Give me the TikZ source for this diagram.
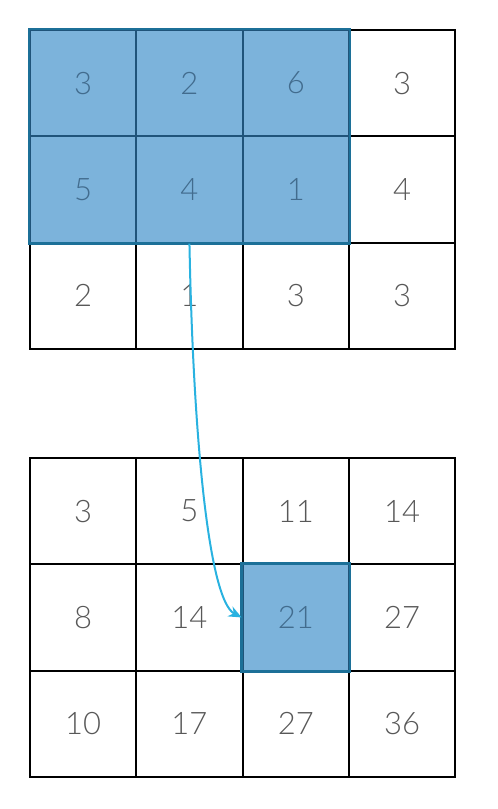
\documentclass[tikz,border=0pt]{standalone}
\usepackage{fontspec}
\setmainfont{Lato}[UprightFont={* Light}]
\usetikzlibrary{arrows.meta}
\definecolor{hlfill}{RGB}{124,179,219}
\definecolor{hlborder}{RGB}{28,112,152}
\definecolor{hlinner}{RGB}{32,84,122}
\definecolor{hltext}{RGB}{66,108,142}
\definecolor{numtext}{RGB}{88,88,88}
\definecolor{arrowcol}{RGB}{41,178,224}
\tikzset{
  cell/.style={draw=black, line width=2pt, minimum width=106.3pt, minimum height=106.3pt,
    inner sep=0pt, font=\fontsize{31}{33}\selectfont, text=numtext},
  hlcell/.style={cell, fill=hlfill, draw=hlinner, text=hltext},
  hlframe/.style={draw=hlborder, line width=2.8pt},
  conn/.style={draw=arrowcol, line width=2pt, -{Stealth[length=13pt,width=11pt]}}
}
\begin{document}
\begin{tikzpicture}[x=1pt,y=-1pt]
\useasboundingbox (0,0) rectangle (498,809);
\def\cw{106.3}
% top grid
\foreach \r/\a/\b/\c/\d in {1/3/2/6/3, 2/5/4/1/4, 3/2/1/3/3}{
  \node[cell] (t-\r-1) at ({30+\cw*0.5},{30+\cw*(\r-0.5)}) {\a};
  \node[cell] (t-\r-2) at ({30+\cw*1.5},{30+\cw*(\r-0.5)}) {\b};
  \node[cell] (t-\r-3) at ({30+\cw*2.5},{30+\cw*(\r-0.5)}) {\c};
  \node[cell] (t-\r-4) at ({30+\cw*3.5},{30+\cw*(\r-0.5)}) {\d};
}
\foreach \r/\a/\b/\c in {1/3/2/6, 2/5/4/1}{
  \node[hlcell] at (t-\r-1) {\a};
  \node[hlcell] at (t-\r-2) {\b};
  \node[hlcell] at (t-\r-3) {\c};
}
\draw[hlframe] (t-1-1.north west) rectangle (t-2-3.south east);
% bottom grid
\foreach \r/\a/\b/\c/\d in {1/3/5/11/14, 2/8/14/21/27, 3/10/17/27/36}{
  \node[cell] (b-\r-1) at ({30+\cw*0.5},{458+\cw*(\r-0.5)}) {\a};
  \node[cell] (b-\r-2) at ({30+\cw*1.5},{458+\cw*(\r-0.5)}) {\b};
  \node[cell] (b-\r-3) at ({30+\cw*2.5},{458+\cw*(\r-0.5)}) {\c};
  \node[cell] (b-\r-4) at ({30+\cw*3.5},{458+\cw*(\r-0.5)}) {\d};
}
\node[hlcell] at (b-2-3) {21};
\draw[hlframe] (b-2-3.north west) rectangle (b-2-3.south east);
% connector
\draw[conn] (t-2-2.south) .. controls (193,430) and (208,600) .. (b-2-3.west);
\end{tikzpicture}
\end{document}
